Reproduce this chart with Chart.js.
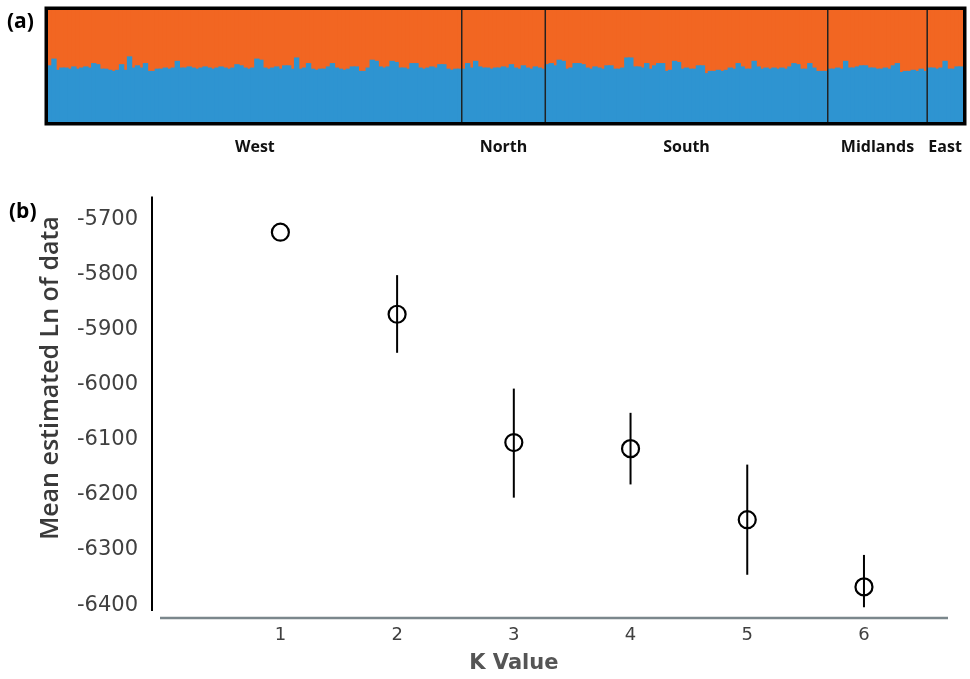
<!DOCTYPE html>
<html>
<head>
<meta charset="utf-8">
<script src="https://cdn.jsdelivr.net/npm/chart.js@4.4.1/dist/chart.umd.min.js"></script>
<style>
  body { margin: 0; background: #fff; }
  #wrap { position: relative; width: 970px; height: 679px; }
  #structure-chart { position: absolute; left: 0; top: 0; }
  #k-chart { position: absolute; left: 0; top: 170px; }
</style>
</head>
<body>
<div id="wrap">
  <canvas id="structure-chart" width="970" height="165"></canvas>
  <canvas id="k-chart" width="970" height="509"></canvas>
</div>
<script>
// Panel (a): blue membership (%) per individual, grouped by region
const regionNames = ['West', 'North', 'South', 'Midlands', 'East'];

const westBlue = [
    50, 56, 46, 48, 48, 47, 49, 47, 48, 49,
    48, 52, 51, 47, 47, 46, 45, 46, 51, 46,
    58, 48, 50, 48, 52, 45, 45, 47, 47, 48,
    47, 48, 54, 48, 48, 49, 48, 47, 48, 49,
    48, 47, 48, 49, 48, 47, 48, 51, 50, 48,
    47, 48, 56, 55, 48, 47, 48, 49, 47, 50,
    50, 47, 57, 47, 48, 52, 47, 46, 47, 47,
    49, 52, 48, 47, 46, 47, 49, 49, 45, 45,
    48, 55, 54, 49, 48, 49, 54, 53, 48, 48,
    47, 52, 52, 48, 47, 48, 49, 48, 51, 51,
    47, 46, 47, 47
];
const northBlue = [
    47, 52, 48, 54, 49, 48, 48, 47, 48, 48,
    49, 48, 51, 48, 47, 50, 48, 47, 49, 48, 47
];
const southBlue = [
    51, 52, 50, 55, 54, 47, 48, 52, 52, 51,
    48, 47, 49, 48, 47, 50, 50, 47, 47, 48,
    57, 57, 49, 49, 48, 52, 47, 50, 52, 52,
    45, 46, 54, 53, 47, 48, 47, 47, 50, 50,
    43, 45, 45, 46, 45, 46, 48, 47, 52, 49,
    47, 47, 54, 49, 47, 48, 47, 48, 47, 48,
    47, 49, 52, 51, 47, 47, 52, 48, 45, 45, 45
];
const midlandsBlue = [
    47, 47, 48, 47, 54, 48, 48, 49, 50, 50,
    48, 48, 47, 47, 48, 47, 50, 52, 44, 45,
    45, 46, 45, 47, 45
];
const eastBlue = [48, 48, 47, 48, 54, 47, 47, 49, 49];

// Panel (b): mean estimated Ln P(D) per K with its range
const kValues = [1, 2, 3, 4, 5, 6];
const meanLnP = [-5723, -5872, -6105, -6116, -6245, -6367];
const lnPHigh = [-5723, -5801, -6007, -6051, -6145, -6309];
const lnPLow = [-5723, -5942, -6205, -6181, -6345, -6404];
const yTicks = [-5700, -5800, -5900, -6000, -6100, -6200, -6300, -6400];

const ORANGE = '#f26622';
const BLUE = '#2e94d1';

// ---------- panel (a) ----------
const regionBlue = [westBlue, northBlue, southBlue, midlandsBlue, eastBlue];
const individuals = regionBlue.flat();
const indLabels = individuals.map((_, i) => i + 1);

// index where each region starts
const regionStarts = [];
let count = 0;
regionBlue.forEach(r => { regionStarts.push(count); count += r.length; });

const structurePlugin = {
    id: 'structureFrame',
    afterDatasetsDraw(chart) {
        const { ctx, chartArea, scales } = chart;
        const x = scales.x;
        const half = (x.getPixelForValue(1) - x.getPixelForValue(0)) / 2;

        ctx.save();
        // dividers between regions
        ctx.strokeStyle = '#222';
        ctx.lineWidth = 1.5;
        regionStarts.slice(1).forEach(s => {
            const px = x.getPixelForValue(s) - half;
            ctx.beginPath();
            ctx.moveTo(px, chartArea.top);
            ctx.lineTo(px, chartArea.bottom);
            ctx.stroke();
        });

        // frame
        ctx.strokeStyle = '#000';
        ctx.lineWidth = 3.5;
        ctx.strokeRect(chartArea.left - 1.75, chartArea.top - 1.75,
            chartArea.right - chartArea.left + 3.5, chartArea.bottom - chartArea.top + 3.5);

        // region names
        ctx.fillStyle = '#111';
        ctx.font = 'bold 16px "Open Sans"';
        ctx.textAlign = 'center';
        ctx.textBaseline = 'middle';
        regionNames.forEach((name, i) => {
            const s = regionStarts[i];
            const e = s + regionBlue[i].length - 1;
            const cx = (x.getPixelForValue(s) + x.getPixelForValue(e)) / 2;
            ctx.fillText(name, cx, 147);
        });

        // panel label
        ctx.font = 'bold 21px "Open Sans"';
        ctx.textAlign = 'left';
        ctx.fillStyle = '#000';
        ctx.fillText('(a)', 7, 22);
        ctx.restore();
    }
};

new Chart(document.getElementById('structure-chart'), {
    type: 'bar',
    data: {
        labels: indLabels,
        datasets: [
            {
                label: 'Cluster 1',
                data: individuals,
                backgroundColor: BLUE,
                barPercentage: 1,
                categoryPercentage: 1,
                borderWidth: 0,
                inflateAmount: 0.7
            },
            {
                label: 'Cluster 2',
                data: individuals.map(v => 100 - v),
                backgroundColor: ORANGE,
                barPercentage: 1,
                categoryPercentage: 1,
                borderWidth: 0,
                inflateAmount: 0.7
            }
        ]
    },
    options: {
        responsive: false,
        animation: false,
        layout: { padding: { left: 48, right: 7, top: 10, bottom: 43 } },
        plugins: { legend: { display: false }, tooltip: { enabled: false } },
        scales: {
            x: { stacked: true, display: false },
            y: { stacked: true, display: false, min: 0, max: 100 }
        }
    },
    plugins: [structurePlugin]
});

// ---------- panel (b) ----------
const kPlugin = {
    id: 'kDecorations',
    afterDatasetsDraw(chart) {
        const { ctx, chartArea, scales } = chart;
        const xs = scales.x, ys = scales.y;
        ctx.save();

        // error bars
        ctx.strokeStyle = '#000';
        ctx.lineWidth = 2;
        kValues.forEach((k, i) => {
            if (lnPHigh[i] === lnPLow[i]) return;
            const px = xs.getPixelForValue(k);
            ctx.beginPath();
            ctx.moveTo(px, ys.getPixelForValue(lnPHigh[i]));
            ctx.lineTo(px, ys.getPixelForValue(lnPLow[i]));
            ctx.stroke();
        });

        // y axis line
        ctx.lineWidth = 2;
        ctx.beginPath();
        ctx.moveTo(chartArea.left, chartArea.top);
        ctx.lineTo(chartArea.left, chartArea.bottom);
        ctx.stroke();

        // x axis line (detached from the y axis)
        ctx.strokeStyle = '#7b878c';
        ctx.lineWidth = 2.5;
        ctx.beginPath();
        ctx.moveTo(chartArea.left + 8, chartArea.bottom + 7);
        ctx.lineTo(chartArea.right, chartArea.bottom + 7);
        ctx.stroke();

        // axis titles
        ctx.fillStyle = '#555';
        ctx.font = 'bold 21px "DejaVu Sans"';
        ctx.textAlign = 'center';
        ctx.textBaseline = 'middle';
        ctx.fillText('K Value', xs.getPixelForValue(3), 494);

        ctx.save();
        ctx.translate(51, 208);
        ctx.rotate(-Math.PI / 2);
        ctx.fillStyle = '#3a3a3a';
        ctx.font = '600 25px "Open Sans"';
        ctx.fillText('Mean estimated Ln of data', 0, 0);
        ctx.restore();

        // panel label
        ctx.fillStyle = '#000';
        ctx.font = 'bold 21px "Open Sans"';
        ctx.textAlign = 'left';
        ctx.fillText('(b)', 9, 42);
        ctx.restore();
    }
};

new Chart(document.getElementById('k-chart'), {
    type: 'scatter',
    data: {
        datasets: [{
            label: 'Mean Ln P(D)',
            data: kValues.map((k, i) => ({ x: k, y: meanLnP[i] })),
            pointStyle: 'circle',
            pointRadius: 8.5,
            pointBorderWidth: 2.2,
            pointBorderColor: '#000',
            pointBackgroundColor: 'rgba(0,0,0,0)'
        }]
    },
    options: {
        responsive: false,
        animation: false,
        layout: { padding: { left: 0, right: 22, top: 25, bottom: 0 } },
        plugins: { legend: { display: false }, tooltip: { enabled: false } },
        scales: {
            x: {
                type: 'linear',
                min: -0.1,
                max: 6.72,
                afterBuildTicks: s => { s.ticks = kValues.map(v => ({ value: v })); },
                afterFit: s => { s.height = 68; },
                grid: { display: false, drawTicks: false },
                border: { display: false },
                ticks: {
                    padding: 14,
                    color: '#404040',
                    font: { family: 'DejaVu Sans', size: 18 }
                }
            },
            y: {
                type: 'linear',
                min: -6410.8,
                max: -5658.4,
                afterBuildTicks: s => { s.ticks = yTicks.map(v => ({ value: v })); },
                afterFit: s => { s.width = 152; },
                grid: { display: false, drawTicks: false },
                border: { display: false },
                ticks: {
                    padding: 14,
                    color: '#404040',
                    font: { family: 'DejaVu Sans', size: 21 },
                    callback: v => String(v)
                }
            }
        }
    },
    plugins: [kPlugin]
});
</script>
</body>
</html>
